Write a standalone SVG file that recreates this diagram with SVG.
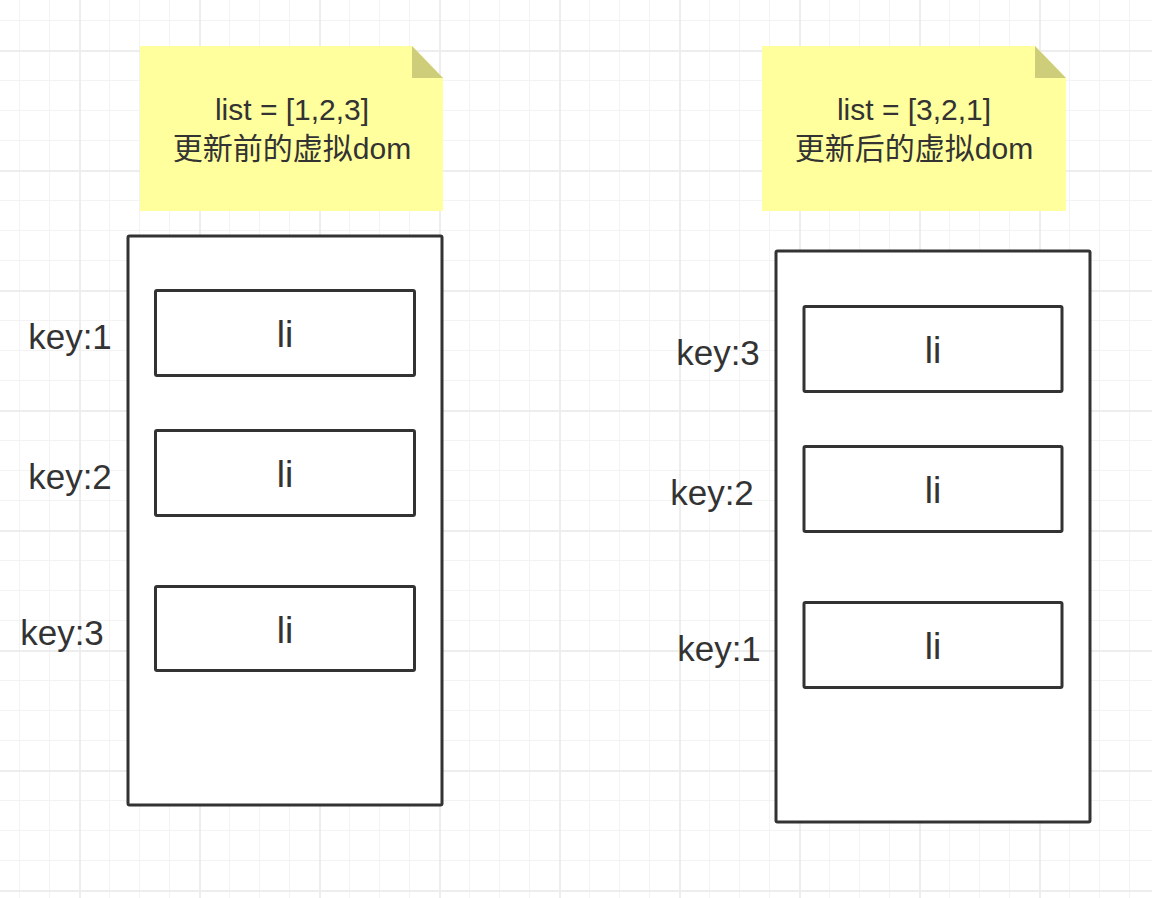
<svg xmlns="http://www.w3.org/2000/svg" width="1152" height="898" viewBox="0 0 1152 898">
  <defs>
    <pattern id="grid" patternUnits="userSpaceOnUse" x="-41" y="-70" width="120" height="120">
      <path d="M30.5 0V120M60.5 0V120M90.5 0V120M0 30.5H120M0 60.5H120M0 90.5H120" stroke="#f3f3f3" stroke-width="1" fill="none"/>
      <path d="M1 0V120M0 1H120" stroke="#ededed" stroke-width="2" fill="none"/>
    </pattern>
    <style>
      text { font-family: "Liberation Sans", "Noto Sans CJK SC", sans-serif; fill: #333333; }
      .note { fill: #ffff9e; }
      .fold { fill: #cdcd7a; }
      .box { fill: #ffffff; stroke: #333333; stroke-width: 3; }
      .nt { font-size: 30px; text-anchor: middle; }
      .key { font-size: 35px; text-anchor: middle; }
      .li { font-size: 37px; text-anchor: middle; }
    </style>
  </defs>
  <rect width="1152" height="898" fill="#ffffff"/>
  <rect width="1152" height="898" fill="url(#grid)"/>

  <g id="note-before">
    <polygon class="note" points="140,46 412,46 443,78 443,211 140,211"/>
    <polygon class="fold" points="412,46 412,78 443,78"/>
    <text class="nt" x="292" y="120">list = [1,2,3]</text>
    <text class="nt" x="292" y="159">更新前的虚拟dom</text>
  </g>

  <g id="note-after">
    <polygon class="note" points="762,46 1035,46 1066,78 1066,211 762,211"/>
    <polygon class="fold" points="1035,46 1035,78 1066,78"/>
    <text class="nt" x="914" y="120">list = [3,2,1]</text>
    <text class="nt" x="914" y="159">更新后的虚拟dom</text>
  </g>

  <g id="list-before">
    <rect class="box" x="128" y="236" width="314" height="569" rx="1.5"/>
  </g>
  <g id="li-before-1">
    <rect class="box" x="155.5" y="290.5" width="259" height="85" rx="1.5"/>
    <text class="li" x="285" y="347">li</text>
    <text class="key" x="70" y="349">key:1</text>
  </g>
  <g id="li-before-2">
    <rect class="box" x="155.5" y="430.5" width="259" height="85" rx="1.5"/>
    <text class="li" x="285" y="487">li</text>
    <text class="key" x="70" y="489">key:2</text>
  </g>
  <g id="li-before-3">
    <rect class="box" x="155.5" y="586.5" width="259" height="84" rx="1.5"/>
    <text class="li" x="285" y="643">li</text>
    <text class="key" x="62" y="645">key:3</text>
  </g>

  <g id="list-after">
    <rect class="box" x="776" y="251" width="314" height="571" rx="1.5"/>
  </g>
  <g id="li-after-1">
    <rect class="box" x="804" y="306.5" width="258" height="85" rx="1.5"/>
    <text class="li" x="933" y="363">li</text>
    <text class="key" x="718" y="365">key:3</text>
  </g>
  <g id="li-after-2">
    <rect class="box" x="804" y="446.5" width="258" height="85" rx="1.5"/>
    <text class="li" x="933" y="503">li</text>
    <text class="key" x="712" y="505">key:2</text>
  </g>
  <g id="li-after-3">
    <rect class="box" x="804" y="602.5" width="258" height="85" rx="1.5"/>
    <text class="li" x="933" y="659">li</text>
    <text class="key" x="719" y="661">key:1</text>
  </g>

  <g id="connectors"></g>
</svg>
